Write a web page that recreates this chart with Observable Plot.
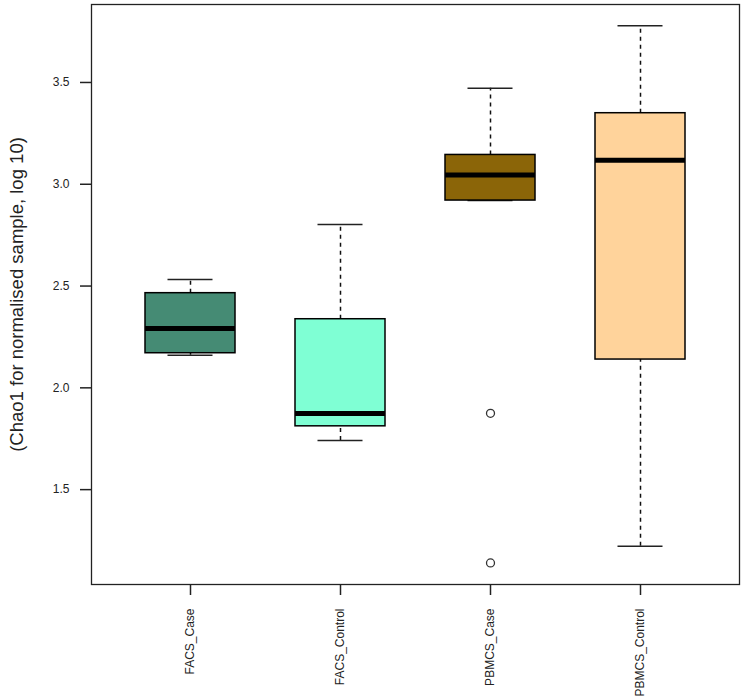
<!DOCTYPE html>
<html>
<head>
<meta charset="utf-8">
<script src="https://cdn.jsdelivr.net/npm/d3@7"></script>
<script src="https://cdn.jsdelivr.net/npm/@observablehq/plot@0.6"></script>
<style>
  html, body { margin: 0; padding: 0; background: #fff; }
  #chart svg { display: block; }
</style>
</head>
<body>
<div id="chart"></div>
<script>
const groups = ["FACS_Case", "FACS_Control", "PBMCS_Case", "PBMCS_Control"];
const lowerWhisker = [2.160, 1.741, 2.920, 1.222];
const q1 = [2.170, 1.811, 2.920, 2.139];
const median = [2.291, 1.874, 3.046, 3.118];
const q3 = [2.465, 2.337, 3.144, 3.349];
const upperWhisker = [2.532, 2.802, 3.472, 3.779];
const fills = ["#458B74", "#7FFFD4", "#8B6508", "#FFD39B"];
const outlierGroup = ["PBMCS_Case", "PBMCS_Case"];
const outlierValue = [1.875, 1.140];
const yTicks = [1.5, 2.0, 2.5, 3.0, 3.5];
const yLabel = "(Chao1 for normalised sample, log 10)";

const boxes = groups.map((g, i) => ({
  g, pos: i + 1, lo: lowerWhisker[i], q1: q1[i], med: median[i], q3: q3[i], hi: upperWhisker[i], fill: fills[i]
}));
const outliers = outlierGroup.map((g, i) => ({ pos: groups.indexOf(g) + 1, v: outlierValue[i] }));

const halfBox = 0.3, halfCap = 0.15;
const font = "'Liberation Sans', Arial, sans-serif";

const chart = Plot.plot({
  width: 748,
  height: 698,
  marginLeft: 91,
  marginRight: 9,
  marginTop: 4,
  marginBottom: 114,
  style: { fontFamily: font, background: "#fff" },
  x: { type: "linear", domain: [0.34, 4.66] },
  y: { domain: [1.034, 3.883] },
  marks: [
    // whiskers (dashed)
    Plot.ruleX(boxes, { x: "pos", y1: "q3", y2: "hi", stroke: "#111", strokeWidth: 1.5, strokeDasharray: "4,4" }),
    Plot.ruleX(boxes, { x: "pos", y1: "lo", y2: "q1", stroke: "#111", strokeWidth: 1.5, strokeDasharray: "4,4" }),
    // caps
    Plot.ruleY(boxes, { y: "hi", x1: d => d.pos - halfCap, x2: d => d.pos + halfCap, stroke: "#222", strokeWidth: 1.5 }),
    Plot.ruleY(boxes, { y: "lo", x1: d => d.pos - halfCap, x2: d => d.pos + halfCap, stroke: "#222", strokeWidth: 1.5 }),
    // boxes
    Plot.rect(boxes, { x1: d => d.pos - halfBox, x2: d => d.pos + halfBox, y1: "q1", y2: "q3", fill: "fill", stroke: "#000", strokeWidth: 1.5 }),
    // medians
    Plot.ruleY(boxes, { y: "med", x1: d => d.pos - halfBox, x2: d => d.pos + halfBox, stroke: "#000", strokeWidth: 5 }),
    // outliers
    Plot.dot(outliers, { x: "pos", y: "v", r: 4, stroke: "#333", strokeWidth: 1.3, fill: "none" }),
    // frame
    Plot.frame({ stroke: "#222", strokeWidth: 1.3 }),
    // axes
    Plot.axisY({ ticks: yTicks, tickFormat: d3.format(".1f"), tickSize: 11, tickPadding: 11, fontSize: 12, stroke: "#222", strokeWidth: 1.5, label: null, fill: "#222" }),
    Plot.axisX({ ticks: [1, 2, 3, 4], tickFormat: d => groups[d - 1], tickSize: 11, tickPadding: 13, tickRotate: -90, fontSize: 12, stroke: "#222", strokeWidth: 1.5, label: null, fill: "#222" }),
    // y label
    Plot.text([yLabel], { text: d => d, frameAnchor: "left", dx: -69, rotate: -90, textAnchor: "middle", lineAnchor: "bottom", fontSize: 18.5, fill: "#222" })
  ]
});
document.getElementById("chart").appendChild(chart);
</script>
</body>
</html>
